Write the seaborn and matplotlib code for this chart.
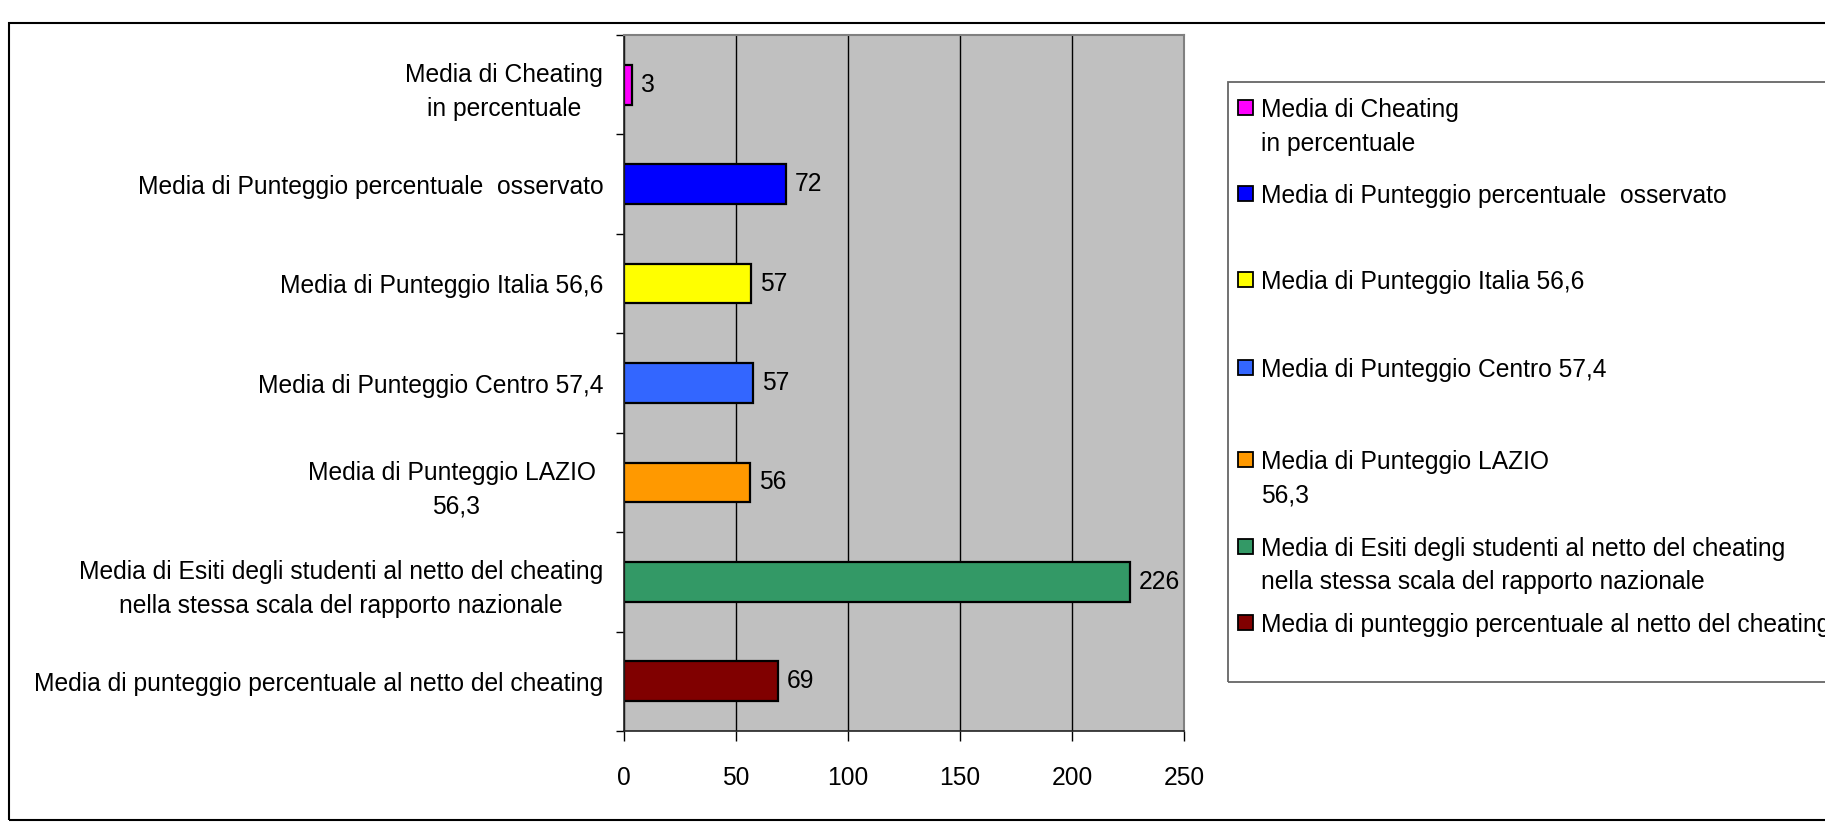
"""
Medie dei punteggi e del cheating: barre orizzontali con legenda a destra.
"""

import matplotlib.pyplot as plt
import pandas as pd
import seaborn as sns
from matplotlib.patches import Rectangle

plt.rcParams['font.family'] = ['Liberation Sans', 'DejaVu Sans']

categories = [
    "Media di Cheating\nin percentuale",
    "Media di Punteggio percentuale  osservato",
    "Media di Punteggio Italia 56,6",
    "Media di Punteggio Centro 57,4",
    "Media di Punteggio LAZIO \n56,3",
    "Media di Esiti degli studenti al netto del cheating\nnella stessa scala del rapporto nazionale",
    "Media di punteggio percentuale al netto del cheating",
]
legend_labels = [
    "Media di Cheating\nin percentuale",
    "Media di Punteggio percentuale  osservato",
    "Media di Punteggio Italia 56,6",
    "Media di Punteggio Centro 57,4",
    "Media di Punteggio LAZIO\n56,3",
    "Media di Esiti degli studenti al netto del cheating\nnella stessa scala del rapporto nazionale",
    "Media di punteggio percentuale al netto del cheating",
]
values = [3.4, 72.1, 56.6, 57.4, 56.3, 225.7, 68.6]
colors = ["#FF00FF", "#0000FF", "#FFFF00", "#3366FF", "#FF9900", "#339966", "#800000"]
x_ticks = [0, 50, 100, 150, 200, 250]

FS = 17.7
W, H = 1825, 823
# vertical centre (px from top) of each legend entry's first line
legend_rows = [107.5, 193, 279.5, 367, 459.5, 546, 622]


def px(x, y):
    # pixel (from top-left) -> figure fraction
    return x / W, 1 - y / H


df = pd.DataFrame({"voce": categories, "media": values})

fig = plt.figure(figsize=(W / 100, H / 100), dpi=100)
ax = fig.add_axes([624 / W, 1 - 731 / H, (1184 - 624) / W, (731 - 35) / H])

sns.barplot(data=df, x="media", y="voce", hue="voce", palette=colors, legend=False,
            width=0.4, saturation=1, edgecolor="black", linewidth=1.6, ax=ax)

ax.set_facecolor('#C0C0C0')
ax.set_xlim(0, 250)
ax.set_xticks(x_ticks)
ax.set_xlabel('')
ax.set_ylabel('')
ax.xaxis.grid(True, color='black', linewidth=1)
ax.yaxis.grid(False)
ax.set_axisbelow(True)

# category ticks sit between the bars
ax.set_yticks([i - 0.5 for i in range(len(categories) + 1)], minor=True)
ax.tick_params(axis='y', which='major', length=0, pad=15, labelsize=FS)
ax.tick_params(axis='y', which='minor', length=6, width=1, color='black')
ax.tick_params(axis='x', length=7, width=1, pad=18, labelsize=FS)
for lbl in ax.get_yticklabels():
    lbl.set_multialignment('center')
    lbl.set_linespacing(1.5)

for side in ['top', 'right']:
    ax.spines[side].set_color('#808080')
    ax.spines[side].set_linewidth(1.5)
for side in ['left', 'bottom']:
    ax.spines[side].set_color('#222222')
    ax.spines[side].set_linewidth(1.2)

for c in ax.containers:
    ax.bar_label(c, fmt='%.0f', padding=6.5, fontsize=FS)

# outer chart border
x0, y0 = px(9, 820)
x1, y1 = px(1830, 23)
fig.patches.append(Rectangle((x0, y0), x1 - x0, y1 - y0, transform=fig.transFigure,
                             fill=False, edgecolor='black', linewidth=1.5))

# legend box (runs past the right edge, as in the original)
lx0, ly0 = px(1228, 682)
lx1, ly1 = px(1830, 82)
fig.patches.append(Rectangle((lx0, ly0), lx1 - lx0, ly1 - ly0, transform=fig.transFigure,
                             fill=False, edgecolor='#666666', linewidth=1.3))
for yc, lab, col in zip(legend_rows, legend_labels, colors):
    hx, hy = px(1238, yc + 7.5)
    fig.patches.append(Rectangle((hx, hy), 15 / W, 15 / H, transform=fig.transFigure,
                                 facecolor=col, edgecolor='black', linewidth=1.3))
    tx, ty = px(1261, yc - 9)
    fig.text(tx, ty, lab, fontsize=FS, va='top', ha='left', linespacing=1.5)

fig.savefig('out.png', dpi=100)
